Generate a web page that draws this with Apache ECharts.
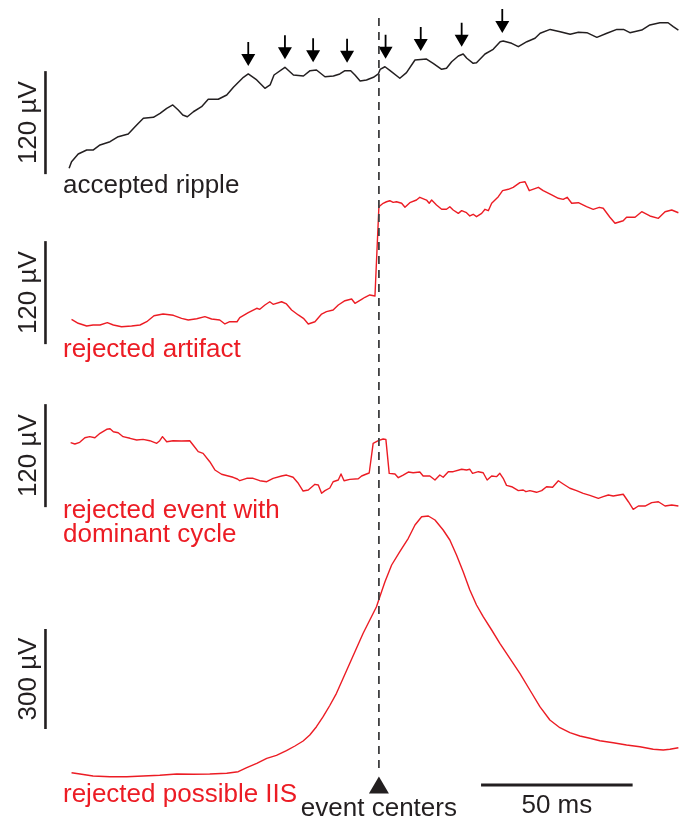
<!DOCTYPE html>
<html>
<head>
<meta charset="utf-8">
<script src="https://cdn.jsdelivr.net/npm/echarts@6/dist/echarts.min.js"></script>
<style>
  html, body { margin: 0; padding: 0; background: #fff; }
  #chart { width: 679px; height: 825px; }
</style>
</head>
<body>
<div id="chart"></div>
<script>
// Time in ms relative to the detected event center, voltage in µV.
const eventCenter = 0;

const rippleTrace = [
  [-102.2, 7.8], [-101.4, 15.5], [-99.2, 24.5], [-96.4, 29.1], [-94.3, 29.1], [-92.0, 35.0],
  [-88.7, 38.8], [-86.0, 44.6], [-82.7, 47.8], [-79.9, 58.3], [-77.7, 66.1], [-74.4, 67.2],
  [-72.2, 71.9], [-70.0, 77.7], [-68.0, 81.6], [-66.2, 75.7], [-64.7, 69.9], [-63.2, 67.9],
  [-61.2, 73.7], [-58.5, 79.6], [-56.3, 88.2], [-53.0, 88.2], [-50.2, 93.2], [-48.0, 102.2],
  [-44.7, 113.8], [-43.1, 117.7], [-40.3, 110.7], [-37.6, 101.0], [-35.9, 104.9], [-34.6, 116.5],
  [-31.0, 125.5], [-28.2, 116.5], [-24.9, 115.3], [-22.7, 121.5], [-20.6, 122.3], [-17.8, 114.5],
  [-15.0, 115.3], [-12.9, 117.7], [-11.2, 121.5], [-9.3, 121.5], [-7.9, 116.5], [-6.2, 109.5],
  [-4.1, 110.7], [-1.8, 113.8], [-0.2, 117.7], [0.4, 123.0], [2.0, 126.1], [3.7, 121.5],
  [6.9, 112.7], [9.1, 119.2], [11.9, 134.0], [15.7, 135.1], [17.9, 130.1], [20.7, 123.1],
  [22.3, 124.3], [24.0, 132.0], [26.2, 138.6], [27.8, 141.0], [29.0, 136.0], [31.1, 130.1],
  [32.2, 130.8], [35.0, 141.0], [37.7, 146.4], [40.0, 155.3], [41.0, 156.1], [43.8, 153.4],
  [46.0, 149.5], [48.8, 155.3], [51.5, 159.3], [53.2, 165.1], [56.5, 169.6], [59.8, 166.9],
  [63.1, 163.9], [65.8, 166.2], [68.6, 165.8], [71.9, 160.4], [75.2, 165.1], [78.5, 169.6],
  [80.7, 169.6], [82.8, 165.8], [86.7, 168.9], [89.4, 174.8], [92.7, 177.4], [95.4, 177.4],
  [97.1, 172.8], [98.8, 168.9]
];

// Ripple cycles marked with arrows (time, trace value at the cycle peak)
const arrowPeaks = [
  [-43.1, 117.7], [-31.0, 125.5], [-21.7, 122.0], [-10.5, 121.5],
  [2.2, 126.0], [13.8, 135.0], [27.3, 140.0], [40.7, 156.0]
];

const artifactTrace = [
  [-101.4, 29.9], [-99.2, 25.3], [-96.4, 22.1], [-94.3, 23.3], [-92.0, 23.3], [-89.6, 26.0],
  [-87.6, 23.3], [-84.9, 21.3], [-81.6, 22.1], [-78.8, 23.3], [-76.6, 27.1], [-74.2, 34.1],
  [-71.2, 36.1], [-67.8, 34.6], [-65.1, 31.1], [-62.9, 29.1], [-60.1, 30.6], [-57.4, 33.0],
  [-55.2, 30.3], [-52.5, 29.1], [-50.8, 24.5], [-49.2, 27.1], [-46.8, 27.1], [-45.9, 31.8],
  [-43.1, 37.6], [-40.3, 42.8], [-39.3, 41.6], [-37.6, 46.6], [-36.0, 50.4], [-34.9, 47.4],
  [-32.1, 50.4], [-30.5, 47.8], [-28.8, 40.8], [-26.6, 35.0], [-24.9, 31.1], [-23.3, 24.5],
  [-21.1, 27.1], [-18.9, 36.1], [-17.3, 38.8], [-15.1, 40.8], [-13.4, 46.6], [-11.2, 51.6],
  [-9.0, 53.6], [-7.9, 48.6], [-5.7, 53.2], [-4.6, 55.6], [-3.0, 58.3], [-1.3, 57.1],
  [0.0, 161.1], [1.4, 165.1], [2.5, 166.9], [3.6, 168.1], [4.7, 166.2], [5.8, 166.9],
  [7.5, 165.1], [8.6, 160.4], [10.2, 165.8], [12.4, 168.9], [13.5, 172.1], [15.7, 168.9],
  [16.6, 165.1], [17.4, 168.9], [19.0, 163.1], [20.7, 158.1], [22.3, 158.1], [23.4, 161.1],
  [24.5, 157.3], [26.2, 153.4], [27.3, 156.5], [28.9, 154.1], [30.0, 150.3], [31.1, 152.3],
  [32.2, 149.5], [33.9, 153.4], [35.0, 158.1], [36.1, 156.5], [37.2, 165.1], [39.4, 172.8],
  [40.8, 179.8], [42.7, 181.4], [44.3, 183.7], [46.5, 189.1], [48.2, 190.2], [49.6, 179.8],
  [52.6, 183.7], [54.2, 179.8], [57.0, 174.8], [59.2, 170.9], [60.8, 169.7], [62.1, 172.1],
  [63.6, 165.1], [65.8, 165.8], [68.5, 161.1], [70.7, 158.1], [72.7, 160.4], [74.0, 159.3],
  [76.2, 148.8], [77.9, 141.8], [80.6, 144.8], [81.7, 148.8], [84.5, 148.8], [86.7, 155.3],
  [89.4, 150.3], [92.2, 147.6], [94.4, 155.3], [96.6, 157.3], [98.8, 154.1]
];

const dominantCycleTrace = [
  [-101.7, 76.1], [-100.3, 74.6], [-98.7, 76.5], [-97.0, 81.9], [-95.4, 83.1], [-93.7, 81.9],
  [-92.0, 87.0], [-89.8, 91.7], [-88.7, 92.4], [-87.6, 88.9], [-86.0, 87.7], [-84.4, 83.1],
  [-82.1, 81.2], [-79.9, 79.2], [-77.8, 80.0], [-75.6, 78.4], [-73.3, 75.4], [-72.3, 78.4],
  [-71.4, 83.1], [-70.0, 77.2], [-67.9, 78.4], [-65.1, 78.1], [-62.4, 78.4], [-61.3, 73.4],
  [-59.6, 65.6], [-58.0, 63.7], [-55.8, 53.9], [-54.1, 44.3], [-51.9, 39.3], [-49.7, 37.3],
  [-48.1, 35.8], [-46.7, 33.8], [-45.9, 31.8], [-43.6, 34.6], [-41.5, 34.6], [-39.3, 31.8],
  [-37.0, 30.6], [-34.9, 34.6], [-32.1, 37.3], [-30.5, 38.4], [-28.3, 35.8], [-26.6, 28.8],
  [-25.0, 19.8], [-23.3, 21.0], [-21.1, 27.6], [-20.0, 26.8], [-18.9, 17.1], [-17.8, 20.2],
  [-16.2, 23.3], [-15.1, 30.6], [-13.4, 32.6], [-12.5, 39.6], [-11.5, 31.8], [-9.6, 33.4],
  [-6.8, 34.1], [-5.7, 37.3], [-4.1, 39.6], [-3.2, 40.8], [-1.9, 75.4], [-0.2, 78.4],
  [1.4, 80.4], [2.3, 80.0], [3.4, 40.4], [5.3, 39.6], [6.4, 35.3], [8.0, 38.4],
  [9.7, 41.9], [11.3, 41.1], [13.5, 41.9], [14.6, 37.3], [16.8, 37.3], [18.5, 32.6],
  [20.1, 38.4], [21.2, 35.8], [22.9, 42.3], [24.5, 42.3], [25.1, 43.5], [27.3, 45.1],
  [28.9, 44.3], [30.0, 45.1], [30.9, 40.4], [32.8, 42.3], [34.4, 41.1], [35.7, 32.6],
  [37.2, 37.3], [38.8, 36.5], [39.9, 40.4], [41.0, 34.6], [42.1, 26.4], [43.8, 24.8],
  [46.0, 20.2], [47.6, 21.0], [48.5, 19.0], [49.8, 20.2], [52.0, 18.3], [53.7, 20.2],
  [55.3, 24.8], [57.3, 24.1], [59.2, 31.8], [60.8, 28.0], [63.0, 23.0], [65.2, 20.2],
  [67.4, 17.1], [69.6, 14.8], [72.4, 11.3], [74.0, 13.2], [75.7, 15.1], [77.3, 14.0],
  [80.6, 16.0], [82.3, 7.3], [83.9, -1.5], [85.6, 2.3], [87.8, 2.3], [90.0, 6.2],
  [92.2, 7.3], [94.4, 2.3], [96.6, 3.5], [98.8, 2.3]
];

const iisTrace = [
  [-101.4, 6.9], [-98.6, 3.0], [-94.3, -3.0], [-88.7, -5.1], [-83.2, -5.1], [-77.8, -3.0],
  [-72.3, -0.9], [-66.7, 3.0], [-61.3, 2.1], [-55.8, 3.0], [-50.2, 5.1], [-46.4, 9.9],
  [-43.6, 21.9], [-40.3, 35.1], [-37.0, 50.1], [-33.8, 59.1], [-30.5, 72.9], [-27.7, 87.0],
  [-25.0, 102.0], [-22.8, 120.0], [-20.6, 144.9], [-18.4, 174.9], [-16.2, 208.5], [-14.0, 245.1],
  [-11.8, 290.1], [-9.6, 335.1], [-7.4, 380.1], [-5.2, 425.1], [-3.0, 465.0], [-0.8, 504.9],
  [0.3, 534.9], [2.0, 579.9], [4.2, 630.0], [6.9, 669.9], [9.7, 710.1], [11.9, 750.0],
  [14.1, 774.9], [16.3, 777.0], [18.5, 765.0], [21.2, 735.0], [23.4, 705.0], [25.6, 660.0],
  [27.8, 609.9], [30.0, 555.0], [32.2, 510.0], [34.4, 474.9], [37.2, 435.0], [39.9, 395.1],
  [43.2, 350.1], [46.5, 305.1], [49.8, 255.0], [53.1, 204.9], [56.4, 165.0], [59.7, 141.9],
  [63.0, 126.9], [66.3, 117.0], [69.6, 110.1], [72.9, 102.9], [77.3, 96.9], [81.7, 90.0],
  [86.1, 84.9], [90.5, 77.1], [93.8, 75.0], [96.0, 77.1], [98.8, 81.9]
];

const traceLabels = ['accepted ripple', 'rejected artifact', 'rejected event with\ndominant cycle', 'rejected possible IIS'];

// Calibration bars
const voltBarTime = -110;
const voltBars = [[1, 121], [1, 121], [1, 121], [138, 438]];
const voltBarLabels = ['120 \u00b5V', '120 \u00b5V', '120 \u00b5V', '300 \u00b5V'];
const timeBar = [33.7, 83.7];
const timeBarLevel = -30;
const timeBarLabel = '50 ms';
const centerLabel = 'event centers';

const BLACK = '#231f20';
const RED = '#ec1c24';
const FONT = '"Liberation Sans", Arial, Helvetica, sans-serif';
const FONT_SIZE = 26;

const timeRange = { min: -125, max: 99 };
const panels = [
  { top: 3.33, height: 171.67, min: 0, max: 200 },
  { top: 173.33, height: 171.67, min: 0, max: 200 },
  { top: 353.5, height: 171.67, min: -20, max: 180 },
  { top: 505, height: 285, min: -45, max: 810 },
  { top: 12, height: 756, min: 0, max: 1 }
];

const chart = echarts.init(document.getElementById('chart'), null, { renderer: 'canvas' });

const grid = panels.map(p => ({ left: 0, width: 679, top: p.top, height: p.height, containLabel: false }));
const xAxis = panels.map((p, i) => ({
  type: 'value', gridIndex: i, min: timeRange.min, max: timeRange.max, show: false
}));
const yAxis = panels.map((p, i) => ({
  type: 'value', gridIndex: i, min: p.min, max: p.max, show: false
}));

function trace(data, idx, color, width) {
  return {
    type: 'line', xAxisIndex: idx, yAxisIndex: idx, data: data,
    showSymbol: false, symbol: 'none', clip: false, silent: true,
    lineStyle: { color: color, width: width, join: 'round' }
  };
}

const series = [
  trace(rippleTrace, 0, BLACK, 1.5),
  trace(artifactTrace, 1, RED, 1.4),
  trace(dominantCycleTrace, 2, RED, 1.4),
  trace(iisTrace, 3, RED, 1.4),
  {
    type: 'scatter', xAxisIndex: 0, yAxisIndex: 0, data: arrowPeaks, silent: true, clip: false,
    symbol: 'path://M6.1,0 L7.9,0 L7.9,12 L14,12 L7,24 L0,12 L6.1,12 Z',
    symbolSize: [14, 24], symbolOffset: [0, -20],
    itemStyle: { color: '#000000', opacity: 1 }
  },
  {
    type: 'line', xAxisIndex: 4, yAxisIndex: 4, silent: true, clip: false,
    data: [[eventCenter, 0], [eventCenter, 1]], showSymbol: false, symbol: 'none',
    lineStyle: { color: '#404041', width: 1.8, type: [8, 6] }
  },
  {
    type: 'scatter', xAxisIndex: 3, yAxisIndex: 3, silent: true, clip: false,
    data: [[eventCenter, timeBarLevel]], symbol: 'triangle', symbolSize: [20, 17],
    itemStyle: { color: BLACK, opacity: 1 }
  },
  {
    type: 'line', xAxisIndex: 3, yAxisIndex: 3, silent: true, clip: false,
    data: [[timeBar[0], timeBarLevel], [timeBar[1], timeBarLevel]], showSymbol: false, symbol: 'none',
    lineStyle: { color: BLACK, width: 3, cap: 'butt' }
  }
];
voltBars.forEach((b, i) => {
  series.push({
    type: 'line', xAxisIndex: i, yAxisIndex: i, silent: true, clip: false,
    data: [[voltBarTime, b[0]], [voltBarTime, b[1]]], showSymbol: false, symbol: 'none',
    lineStyle: { color: BLACK, width: 2.6, cap: 'butt' }
  });
});

chart.setOption({
  animation: false,
  backgroundColor: '#ffffff',
  grid, xAxis, yAxis, series
});

// Text: trace names, calibration labels
const labelStyle = (text, color, extra) => Object.assign({
  text: text, fill: color, font: FONT_SIZE + 'px ' + FONT
}, extra);

const graphics = [];
const labelPos = [186, 350, 511, 795];
traceLabels.forEach((t, i) => {
  graphics.push({
    type: 'text', x: 63, y: labelPos[i] + (t.indexOf('\n') >= 0 ? 12 : 0),
    style: labelStyle(t, i === 0 ? BLACK : RED, { align: 'left', verticalAlign: 'middle', lineHeight: 24 }),
    z: 10
  });
});

voltBars.forEach((b, i) => {
  const p = chart.convertToPixel({ gridIndex: i }, [voltBarTime, (b[0] + b[1]) / 2]);
  graphics.push({
    type: 'text', x: p[0] - 17, y: p[1], rotation: Math.PI / 2,
    style: labelStyle(voltBarLabels[i], BLACK, { align: 'center', verticalAlign: 'middle' }),
    z: 10
  });
});

const tb = chart.convertToPixel({ gridIndex: 3 }, [(timeBar[0] + timeBar[1]) / 2, timeBarLevel]);
graphics.push({
  type: 'text', x: tb[0], y: tb[1] + 21,
  style: labelStyle(timeBarLabel, BLACK, { align: 'center', verticalAlign: 'middle' }), z: 10
});
const ec = chart.convertToPixel({ gridIndex: 3 }, [eventCenter, timeBarLevel]);
graphics.push({
  type: 'text', x: ec[0], y: ec[1] + 24,
  style: labelStyle(centerLabel, BLACK, { align: 'center', verticalAlign: 'middle' }), z: 10
});

chart.setOption({ graphic: graphics });
</script>
</body>
</html>
